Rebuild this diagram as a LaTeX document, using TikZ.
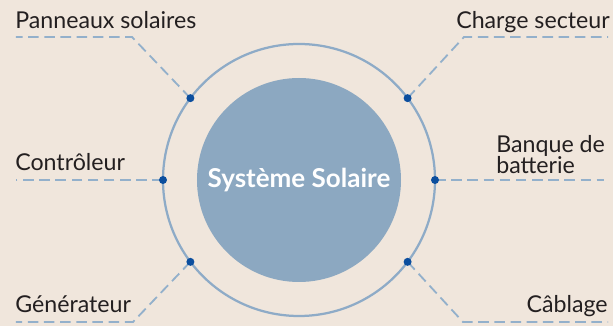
\documentclass[tikz,border=0pt]{standalone}
\usepackage{fontspec}
\setmainfont{Lato}
\usetikzlibrary{positioning}
\definecolor{sand}{HTML}{F0E6DC}
\definecolor{hub}{HTML}{8CA8C1}
\definecolor{ringblue}{HTML}{8EABC7}
\definecolor{leadblue}{HTML}{93B0CB}
\definecolor{pindark}{HTML}{0B4E9E}
\definecolor{ink}{HTML}{231F20}
\tikzset{
  lead/.style={draw=leadblue, line width=1.3pt, dash pattern=on 7.5pt off 4pt},
  pin/.style={circle, fill=pindark, inner sep=0pt, minimum size=0.2cm},
  tag/.style={font=\fontsize{16.5}{15.6}\selectfont, text=ink, inner sep=0pt, align=left},
}
\begin{document}
\begin{tikzpicture}
\useasboundingbox[fill=sand] (-7.475,-3.65) rectangle (7.85,4.5);
% central disc and ring
\node[circle, fill=hub, minimum size=5.1cm, text=white,
      font=\fontsize{18.5}{20}\selectfont\bfseries] (sys) at (0,0) {Système Solaire};
\node[circle, draw=ringblue, line width=1.6pt, outer sep=0pt, minimum size=6.8cm] (ring) at (0,0) {};

% bends and free ends of the leads
\coordinate (pbend) at (-4.175,3.575);
\coordinate (pend) at (-7.075,3.575);
\coordinate (cbend) at (4.125,3.575);
\coordinate (cend) at (7.725,3.575);
\coordinate (tend) at (-7.075,0);
\coordinate (bend) at (7.625,0);
\coordinate (gbend) at (-4.15,-3.55);
\coordinate (gend) at (-7.075,-3.55);
\coordinate (kbend) at (4.1,-3.55);
\coordinate (kend) at (7.725,-3.55);

% labels
\node[tag, anchor=base west] (panneaux) at (-7.1,3.775) {Panneaux solaires};
\node[tag, anchor=base east] (charge) at (7.775,3.775) {Charge secteur};
\node[tag, anchor=base west] (controleur) at (-7.1,0.225) {Contrôleur};
\node[tag, anchor=base west] (banque) at (4.925,0.15) {Banque de\\batterie};
\node[tag, anchor=base west] (generateur) at (-7.1,-3.325) {Générateur};
\node[tag, anchor=base east] (cablage) at (7.725,-3.325) {Câblage};

% leads
\draw[lead] (ring.143) -- (pbend) -- (pend);
\draw[lead] (ring.37) -- (cbend) -- (cend);
\draw[lead] (ring.180) -- (tend);
\draw[lead] (ring.0) -- (bend);
\draw[lead] (ring.217) -- (gbend) -- (gend);
\draw[lead] (ring.323) -- (kbend) -- (kend);

% dots on the ring
\foreach \a in {143,37,180,0,217,323}
  \node[pin] (dot\a) at (ring.\a) {};
\end{tikzpicture}
\end{document}
